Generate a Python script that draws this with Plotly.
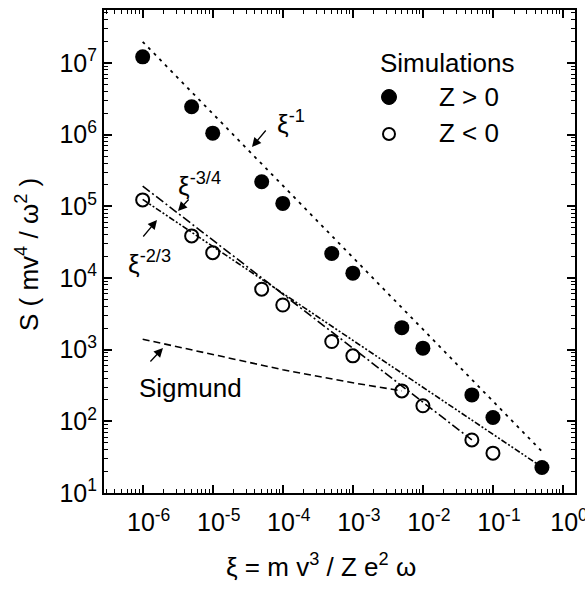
import plotly.graph_objects as go

# ---- data ----
xi_pos = [1e-6, 5e-6, 1e-5, 5e-5, 1e-4, 5e-4, 1e-3, 5e-3, 1e-2, 5e-2, 1e-1, 5e-1]
S_pos = [1.22e7, 2.45e6, 1.05e6, 2.2e5, 1.1e5, 2.2e4, 1.17e4, 2.03e3, 1.05e3, 234, 113, 22.7]

xi_neg = [1e-6, 5e-6, 1e-5, 5e-5, 1e-4, 5e-4, 1e-3, 5e-3, 1e-2, 5e-2, 1e-1]
S_neg = [1.23e5, 3.87e4, 2.26e4, 6.98e3, 4.2e3, 1.3e3, 820, 266, 165, 55, 36]

fit1_x = [1e-6, 0.5]          # xi^-1 (dotted)
fit1_y = [1.98e7, 38]
fit34_x = [1e-6, 0.05]        # xi^-3/4 (dash-dot)
fit34_y = [1.92e5, 55]
fit23_x = [1e-6, 0.5]         # xi^-2/3 (dash-dot-dot)
fit23_y = [1.25e5, 23]
sig_x = [1e-6, 1e-5, 1e-4, 1e-3, 5e-3]   # Sigmund (dashed)
sig_y = [1400, 850, 525, 345, 266]

x_exps = [-6, -5, -4, -3, -2, -1, 0]
y_exps = [1, 2, 3, 4, 5, 6, 7]
x_tickvals = [10.0 ** e for e in x_exps]
y_tickvals = [10.0 ** e for e in y_exps]
x_ticktext = ["10<sup>%d</sup>" % e for e in x_exps]
y_ticktext = ["10<sup>%d</sup>" % e for e in y_exps]
x_minor = [m * 10.0 ** e for e in range(-7, 1) for m in range(2, 10)]
y_minor = [m * 10.0 ** e for e in range(0, 8) for m in range(2, 10)]

FONT = "Liberation Sans, Arial, Helvetica, sans-serif"
W, H = 585, 595
ML, MR, MT, MB = 104, 10, 10, 102
PW, PH = W - ML - MR, H - MT - MB


def px(x):
    return (x - ML) / PW


def py(y):
    return (H - MB - y) / PH


fig = go.Figure()
line_kw = dict(color="black", width=1.6)
fig.add_trace(go.Scatter(x=fit1_x, y=fit1_y, mode="lines", line=dict(dash="3px,5px", color="black", width=1.8),
                         showlegend=False))
fig.add_trace(go.Scatter(x=fit34_x, y=fit34_y, mode="lines", line=dict(dash="9px,3px,2px,3px", **line_kw), showlegend=False))
fig.add_trace(go.Scatter(x=fit23_x, y=fit23_y, mode="lines", line=dict(dash="6px,2px,2px,2px,2px,2px", **line_kw), showlegend=False))
fig.add_trace(go.Scatter(x=sig_x, y=sig_y, mode="lines", line=dict(dash="7px,4px", **line_kw), showlegend=False))

fig.add_trace(go.Scatter(x=xi_neg, y=S_neg, mode="markers", name="Z < 0",
                         marker=dict(symbol="circle-open", size=13, color="black", line=dict(width=2, color="black")),
                         showlegend=False))
fig.add_trace(go.Scatter(x=xi_pos, y=S_pos, mode="markers", name="Z > 0",
                         marker=dict(symbol="circle", size=15, color="black"), showlegend=False))

axis_common = dict(
    type="log", showline=True, linecolor="black", linewidth=2, mirror="allticks",
    ticks="inside", ticklen=8, tickwidth=1.5, tickcolor="black", showgrid=False, zeroline=False,
    tickangle=0, tickmode="array", tickfont=dict(family=FONT, size=25, color="black"),
    ticklabeloverflow="allow", automargin=False,
)
fig.update_xaxes(range=[-6.552, 0.171], tickvals=x_tickvals, ticktext=x_ticktext,
                 ticklabelshift=6, ticklabelstandoff=6,
                 minor=dict(tickmode="array", tickvals=x_minor, ticks="inside", ticklen=4, tickwidth=1,
                            tickcolor="black", showgrid=False), **axis_common)
fig.update_yaxes(range=[1, 7.74], tickvals=y_tickvals, ticktext=y_ticktext,
                 minor=dict(tickmode="array", tickvals=y_minor, ticks="inside", ticklen=4, tickwidth=1,
                            tickcolor="black", showgrid=False), **axis_common)

ann = []
T = dict(family=FONT, size=26, color="black")
C = dict(xref="paper", yref="paper", xanchor="center", yanchor="middle", showarrow=False, font=T)
ann.append(dict(x=px(27), y=py(255), text="S ( mv<sup>4</sup> / ω<sup>2</sup> )", textangle=-90, **C))
ann.append(dict(x=px(321), y=py(565), text="ξ = m v<sup>3</sup> / Z e<sup>2</sup> ω", **C))
ann.append(dict(x=px(447), y=py(63), text="Simulations", **C))
ann.append(dict(x=px(469), y=py(97), text="Z &gt; 0", **C))
ann.append(dict(x=px(469), y=py(133), text="Z &lt; 0", **C))
ann.append(dict(x=px(190), y=py(388), text="Sigmund", **C))
L = dict(C, xanchor="left")
ann.append(dict(x=px(275), y=py(122), text="ξ<sup>-1</sup>", **L))
ann.append(dict(x=px(176), y=py(184), text="ξ<sup>-3/4</sup>", **L))
ann.append(dict(x=px(126), y=py(262), text="ξ<sup>-2/3</sup>", **L))

# arrows: (head_x, head_y, tail_x, tail_y) in pixels
arrows = [(252, 147, 267, 129), (178, 211, 190, 198), (157, 220, 142, 238), (163, 348, 149, 363)]
for hx, hy, tx, ty in arrows:
    ann.append(dict(x=px(hx), y=py(hy), xref="paper", yref="paper", text="", showarrow=True,
                    ax=tx - hx, ay=ty - hy, arrowhead=2, arrowsize=1.4, arrowwidth=1.3, arrowcolor="black"))
fig.update_layout(annotations=ann)

# legend symbols
fig.add_shape(type="circle", xref="paper", yref="paper", xsizemode="pixel", ysizemode="pixel",
              xanchor=px(389), yanchor=py(97), x0=-7.5, x1=7.5, y0=-7.5, y1=7.5,
              fillcolor="black", line=dict(color="black", width=1))
fig.add_shape(type="circle", xref="paper", yref="paper", xsizemode="pixel", ysizemode="pixel",
              xanchor=px(389), yanchor=py(134), x0=-6, x1=6, y0=-6, y1=6,
              fillcolor="rgba(0,0,0,0)", line=dict(color="black", width=2))

fig.update_layout(width=W, height=H, margin=dict(l=ML, r=MR, t=MT, b=MB, autoexpand=False),
                  plot_bgcolor="white", paper_bgcolor="white", showlegend=False,
                  font=dict(family=FONT, color="black"))
fig.write_html("out.html")
